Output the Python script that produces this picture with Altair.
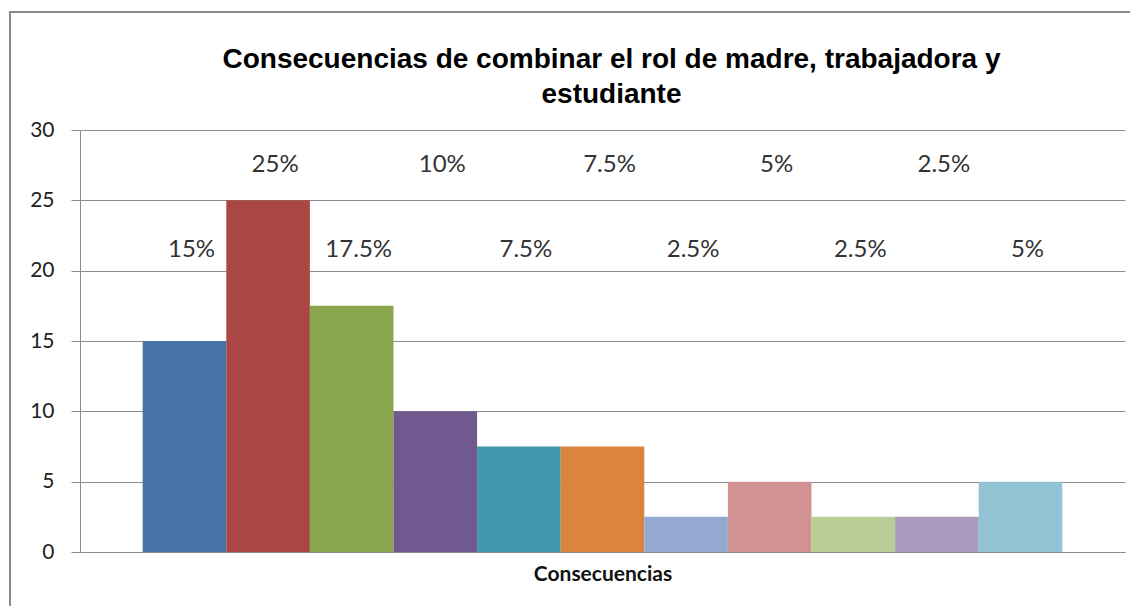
import altair as alt
import pandas as pd

categories = [f"Consecuencia {i}" for i in range(1, 12)]
values = [15, 25, 17.5, 10, 7.5, 7.5, 2.5, 5, 2.5, 2.5, 5]
labels = ["15%", "25%", "17.5%", "10%", "7.5%", "7.5%", "2.5%", "5%", "2.5%", "2.5%", "5%"]
colors = ["#4572A7", "#AA4643", "#89A54E", "#71588F", "#4198AF", "#DB843D",
          "#93A9CF", "#D19392", "#B9CD96", "#A99BBD", "#92C3D5"]
y_ticks = [0, 5, 10, 15, 20, 25, 30]

df = pd.DataFrame({
    "cat": categories,
    "value": values,
    "label": labels,
})
# labels alternate between two rows, as in the original chart
df["label_y"] = [27.5 if i % 2 else 21.5 for i in range(len(df))]

W, H = 1045, 422
GRID = "#8c8c8c"

x_enc = alt.X(
    "cat:N", sort=categories,
    scale=alt.Scale(paddingInner=0, paddingOuter=0.75),
    axis=alt.Axis(labels=False, ticks=False, domain=True, domainColor=GRID,
                  title="Consecuencias", titleFont="Lato", titleFontSize=21,
                  titleFontWeight="bold", titleColor="#111", titlePadding=11),
)

bars = alt.Chart(df).mark_bar().encode(
    x=x_enc,
    y=alt.Y("value:Q", scale=alt.Scale(domain=[0, 30], nice=False),
            axis=alt.Axis(values=y_ticks, title=None, labelFont="Lato",
                          labelFontSize=21, labelColor="#222", labelPadding=17,
                          tickSize=9, tickColor=GRID, domainColor=GRID,
                          gridColor=GRID, grid=True)),
    color=alt.Color("cat:N", scale=alt.Scale(domain=categories, range=colors), legend=None),
)

text = alt.Chart(df).mark_text(font="Lato", fontSize=24, color="#333", dx=7,
                               baseline="middle").encode(
    x=alt.X("cat:N", sort=categories),
    y=alt.Y("label_y:Q"),
    text="label:N",
)

frame = alt.Chart(pd.DataFrame({"a": [0]})).mark_rect(
    fillOpacity=0, stroke="#8a8a8a", strokeWidth=2
).encode(
    x=alt.value(-70), x2=alt.value(W + 200),
    y=alt.value(-118), y2=alt.value(H + 200),
)

chart = alt.layer(frame, bars, text).properties(
    width=W, height=H,
    title=alt.TitleParams(
        ["Consecuencias de combinar el rol de madre, trabajadora y", "estudiante"],
        font="Liberation Sans", fontSize=28, fontWeight="bold", color="#000",
        lineHeight=35, anchor="middle", frame="group", dx=9, offset=0, dy=98,
    ),
    autosize=alt.AutoSizeParams(type="none"),
    padding={"left": 72, "top": 122, "right": 5, "bottom": 54},
).configure_view(stroke=None)

chart.save("out.html", embed_options={"renderer": "svg", "actions": False})
